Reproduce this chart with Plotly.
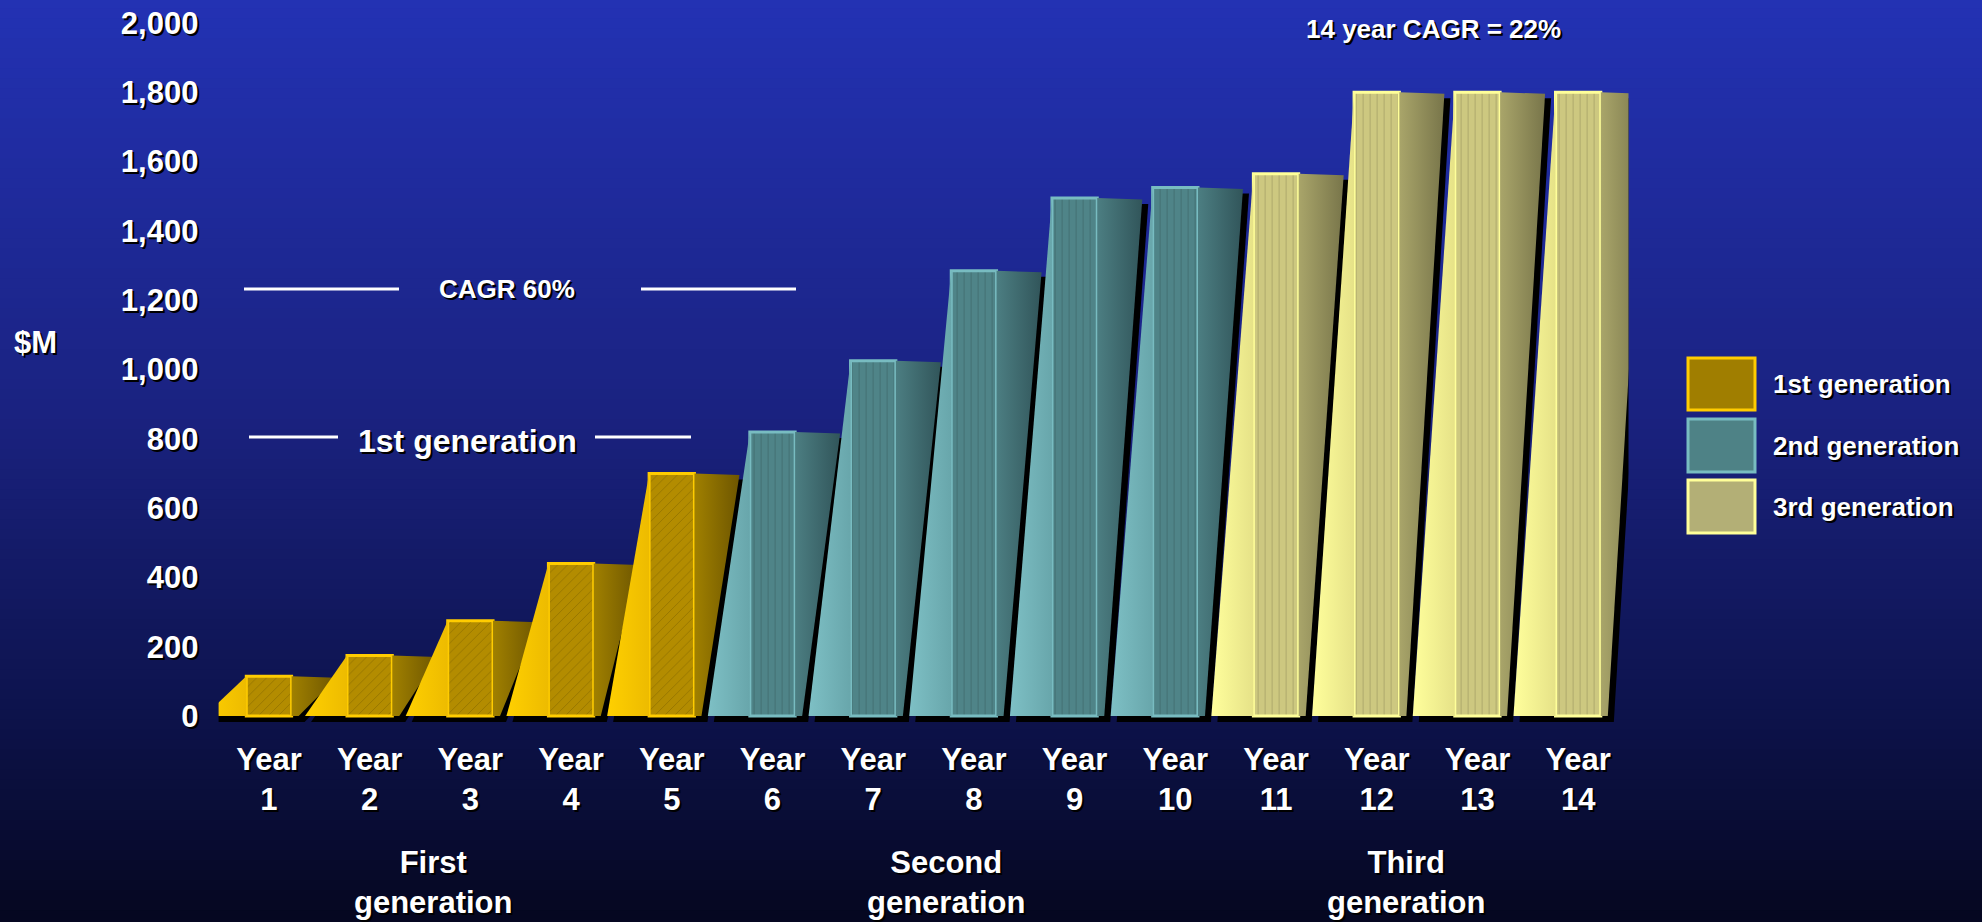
import plotly.graph_objects as go

# ---------------- data ----------------
year_labels = [f"Year<br>{i}" for i in range(1, 15)]
revenue = [115, 175, 275, 440, 700, 820, 1025, 1285, 1495, 1525, 1565, 1800, 1800, 1800]
generation = ["1st generation"] * 5 + ["2nd generation"] * 5 + ["3rd generation"] * 4
y_tick_values = [0, 200, 400, 600, 800, 1000, 1200, 1400, 1600, 1800, 2000]
group_labels = ["First<br>generation", "Second<br>generation", "Third<br>generation"]

# ---------------- styles ----------------
W, H = 1982, 922
STYLE = {
    "1st generation": dict(left=("#FFD000", "#EDBB00"), front="#B38C00", outline="#FFCC00",
                           right=("#A08000", "#6E5600"), pat="/", legend="#A07E00"),
    "2nd generation": dict(left=("#7EC0C5", "#68A6AB"), front="#4F8488", outline="#78BCC1",
                           right=("#4C7E82", "#31555A"), pat="|", legend="#4E8286"),
    "3rd generation": dict(left=("#FFFF9C", "#E6E288"), front="#CDC880", outline="#FFFF99",
                           right=("#A9A56A", "#78754A"), pat="|", legend="#B3AF76"),
}
FONT = "Arial, Liberation Sans, sans-serif"
SHADOW = "2px 2px 0px #000"

# axis geometry (pixels)
x_left_px, x_right_px = 218.6, 1628.5
y_top_px, y_bot_px = 23.0, 729.9
x_range = [-0.5, 13.5]
y_range = [-40, 2000]
px_x = (x_range[1] - x_range[0]) / (x_right_px - x_left_px)   # data units per px (x)
px_y = (y_range[1] - y_range[0]) / (y_bot_px - y_top_px)       # data units per px (y)

hw = 0.225                   # half width of the front face
left_run = 42 * px_x         # slant of left face
right_top = 45 * px_x        # depth of right face at top
right_bot = 7 * px_x         # depth of right face at bottom
sh_x, sh_y = 6 * px_x, 6 * px_y

fig = go.Figure()
shapes = []

# background gradient (top -> bottom)
stops = [(0.0, (35, 50, 180)), (0.45, (26, 34, 128)), (0.75, (14, 20, 80)), (1.0, (5, 7, 32))]


def grad_color(t):
    for (t0, c0), (t1, c1) in zip(stops[:-1], stops[1:]):
        if t0 <= t <= t1:
            f = (t - t0) / (t1 - t0)
            return "rgb(%d,%d,%d)" % tuple(round(a + (b - a) * f) for a, b in zip(c0, c1))
    return "rgb(5,7,32)"


N = 92
for k in range(N):
    y0 = 1 - (k + 1) / N
    y1 = 1 - k / N + 0.002
    shapes.append(dict(type="rect", xref="paper", yref="paper", x0=0, x1=1, y0=y0, y1=y1,
                       fillcolor=grad_color((k + 0.5) / N), line=dict(width=0), layer="below"))

# bar shadows + side faces
for i, (v, g) in enumerate(zip(revenue, generation)):
    st = STYLE[g]
    xl = i - hw
    xr = i + hw
    # drop shadow
    pts = [(xl - left_run + sh_x, -sh_y), (xl + sh_x, v - sh_y), (xr + right_top + sh_x, v - sh_y),
           (xr + right_bot + sh_x, -sh_y)]
    path = "M " + " L ".join(f"{px},{py}" for px, py in pts) + " Z"
    shapes.append(dict(type="path", xref="x", yref="y", path=path, fillcolor="black",
                       line=dict(width=0), layer="below"))
    # left (lit) face
    fig.add_trace(go.Scatter(
        x=[xl - left_run, xl, xl, xl - left_run], y=[0, v, 0, 0], fill="toself", mode="lines",
        line=dict(width=0), fillgradient=dict(type="horizontal",
                                              colorscale=[[0, st["left"][0]], [1, st["left"][1]]]),
        hoverinfo="skip", showlegend=False))
    # right (shaded) face
    fig.add_trace(go.Scatter(
        x=[xr, xr, xr + right_top, xr + right_bot, xr], y=[0, v, v - 1.5 * px_y, 0, 0],
        fill="toself", mode="lines", line=dict(width=0),
        fillgradient=dict(type="horizontal", colorscale=[[0, st["right"][0]], [1, st["right"][1]]]),
        hoverinfo="skip", showlegend=False))

# front faces: the actual bars
for g in STYLE:
    st = STYLE[g]
    xs = [i for i, gg in enumerate(generation) if gg == g]
    ys = [revenue[i] for i in xs]
    fig.add_trace(go.Bar(
        x=xs, y=ys, width=2 * hw, name=g, showlegend=False,
        marker=dict(color=st["front"], line=dict(color=st["outline"], width=3),
                    pattern=dict(shape=st["pat"], fgcolor="#000000", fgopacity=0.18,
                                 size=7, solidity=0.12, fillmode="overlay")),
        hovertemplate="%{y:,} $M<extra>" + g + "</extra>"))


def txt(s, size):
    return dict(text=s, showarrow=False, font=dict(family=FONT, size=size, color="white",
                                                   weight="bold", shadow=SHADOW))


ann = []
# legend (custom, boxes + text)
leg_boxes = [(358, 410), (419, 472), (480, 533)]
for (t, b), g in zip(leg_boxes, STYLE):
    st = STYLE[g]
    shapes.append(dict(type="rect", xref="paper", yref="paper", x0=1688 / W, x1=1755 / W,
                       y0=1 - b / H, y1=1 - t / H, fillcolor=st["legend"],
                       line=dict(color=st["outline"], width=3)))
    a = txt(g, 26)
    a.update(xref="paper", yref="paper", x=1771 / W, y=1 - (t + b) / 2 / H, xanchor="left",
             yanchor="middle")
    ann.append(a)

# $M axis title
a = txt("$M", 31)
a.update(xref="paper", yref="paper", x=12 / W, y=1 - 342 / H, xanchor="left", yanchor="middle")
ann.append(a)

# CAGR 60% with bracket lines
a = txt("CAGR 60%", 26)
a.update(xref="paper", yref="paper", x=507 / W, y=1 - 289 / H, xanchor="center", yanchor="middle")
ann.append(a)
for x0, x1 in [(244, 399), (641, 796)]:
    shapes.append(dict(type="line", xref="paper", yref="paper", x0=x0 / W, x1=x1 / W,
                       y0=1 - 289 / H, y1=1 - 289 / H, line=dict(color="white", width=3)))

# 1st generation with bracket lines
a = txt("1st generation", 32)
a.update(xref="paper", yref="paper", x=467 / W, y=1 - 441 / H, xanchor="center", yanchor="middle")
ann.append(a)
for x0, x1 in [(249, 338), (595, 691)]:
    shapes.append(dict(type="line", xref="paper", yref="paper", x0=x0 / W, x1=x1 / W,
                       y0=1 - 437 / H, y1=1 - 437 / H, line=dict(color="white", width=3)))

# 14 year CAGR
a = txt("14 year CAGR = 22%", 26)
a.update(xref="paper", yref="paper", x=1433 / W, y=1 - 29 / H, xanchor="center", yanchor="middle")
ann.append(a)

# generation group labels under the axis
for s, xc in zip(group_labels, [433, 946, 1406]):
    a = txt(s, 31)
    a.update(xref="paper", yref="paper", x=xc / W, y=0.0, xanchor="center", yanchor="bottom")
    ann.append(a)

tickfont = dict(family=FONT, size=31, color="white", weight="bold", shadow=SHADOW)

fig.update_layout(
    width=W, height=H,
    margin=dict(l=0, r=0, t=0, b=0),
    paper_bgcolor="#0B1050",
    plot_bgcolor="rgba(0,0,0,0)",
    barmode="overlay",
    showlegend=False,
    shapes=shapes,
    annotations=ann,
    xaxis=dict(domain=[x_left_px / W, x_right_px / W], range=x_range, tickmode="array",
               tickvals=list(range(len(year_labels))), ticktext=year_labels, tickfont=tickfont,
               showgrid=False, zeroline=False, showline=False, ticks="outside", ticklen=2,
               tickcolor="rgba(0,0,0,0)", automargin=False, fixedrange=True),
    yaxis=dict(domain=[1 - y_bot_px / H, 1 - y_top_px / H], range=y_range, tickmode="array",
               tickvals=y_tick_values, tickformat=",", tickfont=tickfont, showgrid=False,
               zeroline=False, showline=False, ticks="outside", ticklen=13,
               tickcolor="rgba(0,0,0,0)", automargin=False, fixedrange=True),
)

fig.write_html("out.html")
